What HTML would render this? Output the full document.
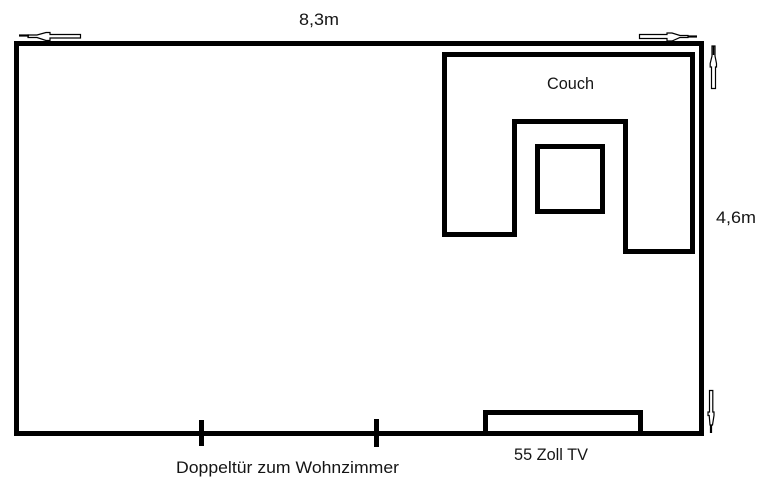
<!DOCTYPE html>
<html>
<head>
<meta charset="utf-8">
<style>
html,body{margin:0;padding:0;background:#fff;width:765px;height:504px;overflow:hidden}
svg{display:block}
text{font-family:"Liberation Sans",sans-serif;font-size:16.5px;fill:#151515}
</style>
</head>
<body>
<svg width="765" height="504" viewBox="0 0 765 504" xmlns="http://www.w3.org/2000/svg">
<rect width="765" height="504" fill="#fff"/>
<g fill="none" stroke="#000" stroke-width="5" stroke-linejoin="miter">
  <rect x="16.5" y="43.5" width="685" height="390"/>
  <path d="M444.5 54.5H692.5V251.5H625.5V121.5H514.5V234.5H444.5Z"/>
  <rect x="537.5" y="146.5" width="65" height="65"/>
  <path d="M485.5 433V412.5H640.5V433"/>
  <path d="M201.5 420V446"/>
  <path d="M376.5 419V447"/>
</g>
<g fill="#fff" stroke="#000" stroke-width="1.2">
  <path d="M80.5 34.5V38H50V40.5H46L37 37.5H28V35H37L46 32.5H50V34.5Z"/>
  <path d="M639.5 34.5H667V33H672L680 35.5H688V37.5H680L672 41H667V38.5H639.5Z"/>
  <path d="M711.5 88.5V67H710.2V63.5L712 56V46H715V56L716.5 63.5V67H715.5V88.5Z"/>
  <path d="M709.5 390.5H712.8V412H714V415.5L712.5 425H710L709.2 415.5H708V412H709.5Z"/>
</g>
<g stroke="#000" fill="none" stroke-width="2">
  <path d="M19 35.5H29" stroke-width="2.2"/>
  <path d="M688 36.5H697" stroke-width="2.2"/>
  <path d="M711 425V433" stroke-width="2.2"/>
  <path d="M713.5 46V55" stroke-width="1.6"/>
</g>
<text x="299" y="25" textLength="40" lengthAdjust="spacingAndGlyphs">8,3m</text>
<text x="547" y="89" textLength="47" lengthAdjust="spacingAndGlyphs">Couch</text>
<text x="716" y="223" textLength="40" lengthAdjust="spacingAndGlyphs">4,6m</text>
<text x="514" y="460" textLength="74" lengthAdjust="spacingAndGlyphs">55 Zoll TV</text>
<text x="176" y="473" textLength="223" lengthAdjust="spacingAndGlyphs">Doppeltür zum Wohnzimmer</text>
</svg>
</body>
</html>
